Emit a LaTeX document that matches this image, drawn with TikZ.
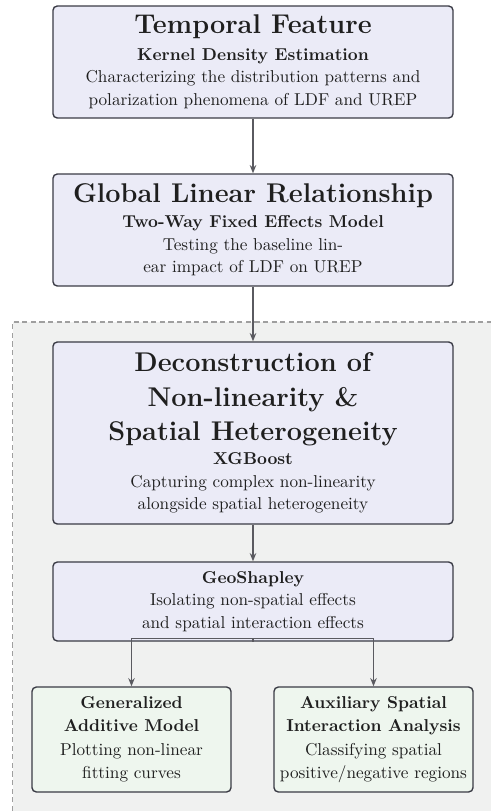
\documentclass[tikz,border=0pt]{standalone}
\usepackage{fontspec}
\usetikzlibrary{arrows.meta}
\linespread{1.1}
\definecolor{stagefill}{HTML}{EBEBF7}
\definecolor{leaffill}{HTML}{EEF6EE}
\definecolor{panelfill}{HTML}{F0F1F0}
\definecolor{stageline}{HTML}{3A3B45}
\definecolor{flowgray}{HTML}{5A5A60}
\newcommand{\stagetitle}{\fontsize{15.75pt}{19.8pt}\selectfont\bfseries}
\tikzstyle{stagebox}=[
    draw=stageline, fill=stagefill,
    line width=0.8pt,
    rounded corners=2.5pt,
    align=center,
    text=black!88,
    minimum width=232.6pt,
]
\tikzstyle{leafbox}=[stagebox, fill=leaffill, minimum width=115.7pt, minimum height=61pt]
\tikzstyle{flow}=[draw=flowgray, line width=0.75pt, -{Stealth[length=4.8pt,width=3.8pt]}]

\begin{document}
\begin{tikzpicture}[x=0.5814pt, y=0.5814pt]
        \useasboundingbox (0,0) rectangle (491,-811);
        \fill[panelfill] (12.5,-322) rectangle (491,-811);
        \draw[gray!75, line width=0.6pt, dash pattern=on 3pt off 2pt] (12.5,-811) -- (12.5,-322) -- (491,-322);
        \node (temporal) at (253,-62) [stagebox, minimum height=65.1pt] {%
            {\stagetitle Temporal Feature}\\[2pt]
            {\bfseries Kernel Density Estimation}\\
            Characterizing the distribution patterns and\\
            polarization phenomena of LDF and UREP};
        \node (global) at (253,-230) [stagebox, minimum height=65.1pt] {%
            {\stagetitle Global Linear Relationship}\\[1pt]
            {\bfseries Two-Way Fixed Effects Model}\\
            Testing the baseline lin-\\
            ear impact of LDF on UREP};
        \node (deconstruction) at (253,-433) [stagebox, minimum height=105.8pt] {%
            {\stagetitle Deconstruction of}\\[7pt]
            {\stagetitle Non-linearity \&}\\[4.5pt]
            {\stagetitle Spatial Heterogeneity}\\[1pt]
            {\bfseries XGBoost}\\
            Capturing complex non-linearity\\
            alongside spatial heterogeneity};
        \node (geoshapley) at (253,-601.5) [stagebox, minimum height=45.9pt] {%
            {\bfseries GeoShapley}\\
            Isolating non-spatial effects\\
            and spatial interaction effects};
        \node (gam) at (131.5,-739.5) [leafbox] {%
            {\bfseries Generalized}\\
            {\bfseries Additive Model}\\[1pt]
            Plotting non-linear\\
            fitting curves};
        \node (auxiliary) at (373.5,-739.5) [leafbox] {%
            {\bfseries Auxiliary Spatial}\\
            {\bfseries Interaction Analysis}\\[1pt]
            Classifying spatial\\
            positive/negative regions};
        \draw[flow] (temporal) -- (global);
        \draw[flow] (global) -- (deconstruction);
        \draw[flow] (deconstruction) -- (geoshapley);
        \draw[flow] (geoshapley.south) -- ++(0,3) -| (gam);
        \draw[flow] (geoshapley.south) -- ++(0,3) -| (auxiliary);
    \end{tikzpicture}
\end{document}
